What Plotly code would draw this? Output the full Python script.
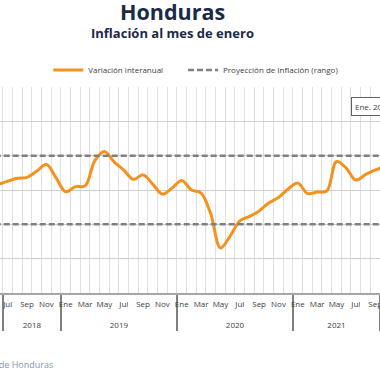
import plotly.graph_objects as go

# ---- data ----
years = ["2018", "2019", "2020", "2021"]
month_labels = ["Ene", " ", "Mar", "  ", "May", "   ", "Jul", "    ", "Sep", "     ", "Nov", "      "]

inflacion_2018 = [4.45, 4.30, 4.18, 4.12, 4.15, 4.17, 4.26, 4.34, 4.37, 4.55, 4.74, 4.35]
inflacion_2019 = [3.95, 4.10, 4.12, 4.85, 5.12, 4.82, 4.58, 4.31, 4.44, 4.17, 3.88, 4.06]
inflacion_2020 = [4.28, 4.00, 3.91, 3.30, 2.31, 2.66, 3.10, 3.23, 3.39, 3.62, 3.78, 4.03]
inflacion_2021 = [4.20, 3.90, 3.94, 3.97, 4.83, 4.64, 4.29, 4.45, 4.58, 4.70, 4.95, 5.32]

proy_sup = 5.0
proy_inf = 3.0

values = inflacion_2018 + inflacion_2019 + inflacion_2020 + inflacion_2021
# outer (year) labels get an empty first line so they sit lower, as in the reference
x_years = ["<br>" + y for y in years for _ in month_labels]
x_months = [m for _ in years for m in month_labels]
x = [x_years, x_months]

FONT = "Open Sans"
ORANGE = "#F5921E"
GREY_DASH = "#808080"

fig = go.Figure()
fig.add_trace(go.Scatter(
    x=x, y=values, mode="lines", name="Variación interanual", legend="legend",
    line=dict(color=ORANGE, width=3, shape="spline", smoothing=1.0),
))
fig.add_trace(go.Scatter(
    x=x, y=[proy_sup] * len(values), mode="lines", name="Proyección de Inflación (rango)",
    legend="legend2",
    line=dict(color=GREY_DASH, width=2.5, dash="6px,3px"),
))
fig.add_trace(go.Scatter(
    x=x, y=[proy_inf] * len(values), mode="lines", showlegend=False,
    line=dict(color=GREY_DASH, width=2.5, dash="6px,3px"),
))

legend_common = dict(orientation="h", xanchor="left", y=1.0825, yanchor="middle",
                     font=dict(size=8, color="#404040"), itemwidth=30,
                     bgcolor="rgba(0,0,0,0)")

fig.update_layout(
    width=380, height=380,
    margin=dict(l=0, r=0, t=87, b=87, autoexpand=False),
    paper_bgcolor="white", plot_bgcolor="white",
    font=dict(family=FONT, color="#404040"),
    showlegend=True,
    legend=dict(x=0.127, **legend_common),
    legend2=dict(x=0.4816, **legend_common),
    xaxis=dict(
        type="multicategory", range=[5.2, 44.5],
        tickmode="linear", dtick=1, tickangle=0, automargin=False,
        showgrid=True, gridcolor="#e0e0e0", gridwidth=1,
        showline=True, linecolor="#a6a6a6", linewidth=1.5,
        ticks="", tickfont=dict(size=8, color="#404040"), ticklabelstandoff=3,
        showdividers=True, dividercolor="#808080", dividerwidth=1.5,
    ),
    yaxis=dict(
        range=[1, 7], dtick=1, showticklabels=False, automargin=False,
        showgrid=True, gridcolor="#cfcfcf", gridwidth=1, zeroline=False,
    ),
    annotations=[
        dict(text="<b>Honduras</b>", xref="paper", yref="paper", x=0.455, y=(293 - 12) / 206,
             xanchor="center", yanchor="middle", showarrow=False,
             font=dict(family=FONT, size=21.5, color="#1B2A47")),
        dict(text="<b>Inflación al mes de enero</b>", xref="paper", yref="paper", x=0.455,
             y=(293 - 33) / 206, xanchor="center", yanchor="middle", showarrow=False,
             font=dict(family=FONT, size=13, color="#1B2A47")),
        dict(text="Ene. 2022", xref="paper", yref="paper", x=351 / 380, y=(293 - 106) / 206,
             xanchor="left", yanchor="middle", showarrow=False, bgcolor="white",
             bordercolor="#606060", borderwidth=1, borderpad=3,
             font=dict(family=FONT, size=8, color="#404040")),
        dict(text="Fuente: Banco Central de Honduras", xref="paper", yref="paper", x=55 / 380,
             y=(293 - 364) / 206, xanchor="right", yanchor="middle", showarrow=False,
             font=dict(family=FONT, size=9, color="#8497B0")),
    ],
)

fig.write_html("out.html", config={"displayModeBar": False},
               post_script="document.body.style.margin='0';")
